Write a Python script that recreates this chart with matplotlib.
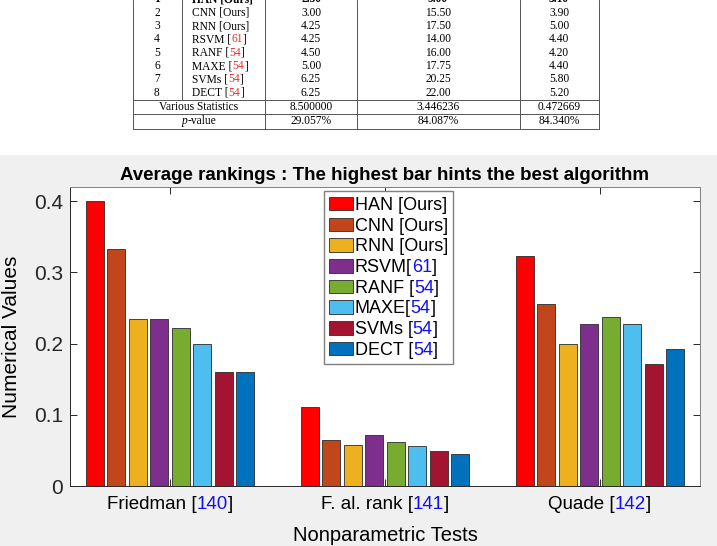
import matplotlib
matplotlib.use('Agg')
import matplotlib.pyplot as plt
import numpy as np
from matplotlib.patches import Rectangle
import matplotlib.transforms as mtransforms

plt.rcParams['font.family'] = 'Liberation Sans'

## data
# -------------------------------------------------------------
methods = ['HAN', 'CNN', 'RNN', 'RSVM', 'RANF', 'MAXE', 'SVMs', 'DECT']
cites = ['Ours', 'Ours', 'Ours', '61', '54', '54', '54', '54']
legend_sep = [' ', ' ', ' ', '', ' ', '', ' ', ' ']   # gap before "[" in the legend
tests = ['Friedman', 'F. al. rank', 'Quade']
test_cites = ['140', '141', '142']

# bar heights (one list per test)
friedman = [0.400, 0.333, 0.235, 0.235, 0.222, 0.200, 0.160, 0.160]
aligned = [0.111, 0.064, 0.057, 0.071, 0.062, 0.056, 0.049, 0.045]
quade = [0.323, 0.256, 0.200, 0.227, 0.238, 0.227, 0.172, 0.192]

# table above the chart
tab_rank = ['1', '2', '3', '4', '5', '6', '7', '8']
tab_friedman = ['2.50', '3.00', '4.25', '4.25', '4.50', '5.00', '6.25', '6.25']
tab_aligned = ['9.00', '15.50', '17.50', '14.00', '16.00', '17.75', '20.25', '22.00']
tab_quade = ['3.10', '3.90', '5.00', '4.40', '4.20', '4.40', '5.80', '5.20']
tab_stats = ['8.500000', '3.446236', '0.472669']
tab_pvalue = ['29.057%', '84.087%', '84.340%']

colors = ['#ff0000', '#c2461b', '#edb120', '#7e2f8e', '#77ac30', '#4dbeee', '#a2142f', '#0072bd']
# -------------------------------------------------------------

W, H = 717, 546
fig = plt.figure(figsize=(W / 100, H / 100), dpi=100, facecolor='#f0f0f0')
fig.add_artist(Rectangle((0, 1 - 155 / H), 1, 155 / H, transform=fig.transFigure,
                         facecolor='white', edgecolor='none', zorder=0))


def rainbow(ax, x, y, pieces, ha='center', anchor_kw=None, zorder=3, **kw):
    """Text made of differently styled pieces, laid side by side."""
    anchor_kw = anchor_kw or {}
    full = ''.join(p[0] for p in pieces)
    anchor = ax.text(x, y, full, ha=ha, va='center', color='none', **anchor_kw, **kw)
    prev, xy = anchor, (0, 0)
    for txt, style in pieces:
        prev = ax.annotate(txt, xy=xy, xycoords=prev, va='bottom', ha='left',
                           zorder=zorder, **kw, **style)
        xy = (1, 0)
    return anchor


# Table (pixel coordinates of the page)
# -------------------------------------------------------------
tax = fig.add_axes([0, 1 - 155 / H, 1, 155 / H])
tax.set_xlim(0, W)
tax.set_ylim(155, 0)
tax.axis('off')

tfont = dict(family='Liberation Serif', fontsize=8.3)
row_y = [-0.6 + 13.35 * i for i in range(8)]
col_x = [157, 311, 438, 559]
line_kw = dict(color='#555555', lw=0.7)

for i in range(8):
    w = 'bold' if i == 0 else 'normal'
    tax.text(col_x[0], row_y[i], tab_rank[i], ha='center', va='center', weight=w, clip_on=True, **tfont)
    if cites[i] == 'Ours':
        tax.text(192, row_y[i], methods[i] + ' [Ours]', ha='left', va='center', weight=w,
                 clip_on=True, **tfont)
    else:
        rainbow(tax, 192, row_y[i], [(methods[i] + ' [', {}), (cites[i], {'color': '#e8322e'}), (']', {})],
                ha='left', **tfont)
    for cx, col in zip(col_x[1:], [tab_friedman, tab_aligned, tab_quade]):
        tax.text(cx, row_y[i], col[i], ha='center', va='center', weight=w, clip_on=True, **tfont)

tax.text(199, 106.6, 'Various Statistics', ha='center', va='center', **tfont)
rainbow(tax, 199, 121, [('p', {'fontstyle': 'italic'}), ('-value', {})], **tfont)
for cx, s, p in zip(col_x[1:], tab_stats, tab_pvalue):
    tax.text(cx, 106.6, s, ha='center', va='center', **tfont)
    tax.text(cx, 121, p, ha='center', va='center', **tfont)

for xv in [133, 599]:
    tax.plot([xv, xv], [0, 128.5], **line_kw)
tax.plot([182, 182], [0, 100], **line_kw)
for xv in [265, 357, 520]:
    tax.plot([xv, xv], [0, 128.5], **line_kw)
for yv in [100, 114, 128.5]:
    tax.plot([133, 599], [yv, yv], **line_kw)
# -------------------------------------------------------------


# Bar chart
# -------------------------------------------------------------
ax = fig.add_axes([70 / W, 60 / H, 630 / W, 299 / H])
ax.set_facecolor('white')
x = np.arange(1, len(tests) + 1)
vals = np.array([friedman, aligned, quade])   # tests x methods
bw = 0.1
handles = []
for j, m in enumerate(methods):
    b = ax.bar(x + (j - 3.5) * bw, vals[:, j], width=0.085, color=colors[j],
               edgecolor='#2b2b2b', linewidth=0.6)
    handles.append(b)

ax.set_xlim(0.535, 3.465)
ax.set_ylim(0, 0.42)
ax.set_yticks([0, 0.1, 0.2, 0.3, 0.4])
ax.set_yticklabels(['0', '0.1', '0.2', '0.3', '0.4'])
ax.set_xticks(x)
ax.set_xticklabels([])
ax.tick_params(which='both', direction='in', top=True, right=True, length=5,
               width=0.7, colors='#262626', labelsize=15, pad=5)
for name, s in ax.spines.items():
    s.set_color('#262626' if name in ('left', 'bottom') else '#808080')
    s.set_linewidth(0.7)

# x tick labels with blue citation numbers
trans = mtransforms.blended_transform_factory(ax.transData, ax.transAxes)
for xi, t, c in zip(x, tests, test_cites):
    rainbow(ax, xi, -0.063, [(t + ' [', {}), (c, {'color': '#1010f0'}), (']', {})],
            anchor_kw={'transform': trans}, fontsize=13.5, zorder=6)

ax.set_xlabel('Nonparametric Tests', fontsize=14.5, labelpad=24)
ax.set_ylabel('Numerical Values', fontsize=15, labelpad=9)
ax.set_title('Average rankings : The highest bar hints the best algorithm',
             fontsize=13.5, fontweight='bold', pad=5)

labels = [m + sep + '[%s]' % c for m, sep, c in zip(methods, legend_sep, cites)]
leg = ax.legend(handles, labels, loc='upper left', bbox_to_anchor=(0.403, 0.985),
                fontsize=13, fancybox=False, edgecolor='#7f7f7f', framealpha=1,
                handlelength=1.33, handleheight=0.78, handletextpad=0.08,
                labelspacing=0.2, borderpad=0.3, borderaxespad=0)
for txt, c in zip(leg.get_texts(), cites):
    if c != 'Ours':
        txt.set_color('none')
        prev, xy = txt, (0, 0)
        for piece, col in [(txt.get_text()[:-len(c) - 1], 'black'), (c, '#1010f0'), (']', 'black')]:
            prev = ax.annotate(piece, xy=xy, xycoords=prev, va='bottom', ha='left',
                               fontsize=13, color=col, zorder=7)
            xy = (1, 0)
# -------------------------------------------------------------

plt.savefig('out.png', dpi=100, facecolor=fig.get_facecolor())
